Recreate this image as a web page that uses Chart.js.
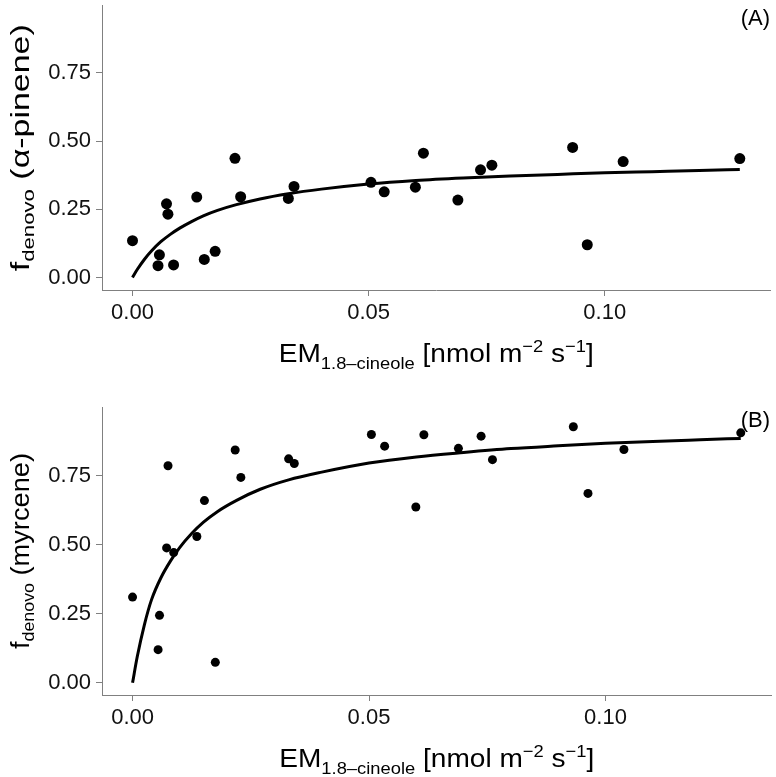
<!DOCTYPE html>
<html>
<head>
<meta charset="utf-8">
<script src="https://cdn.jsdelivr.net/npm/chart.js@4/dist/chart.umd.min.js"></script>
<style>
  html, body { margin: 0; padding: 0; background: #fff; }
  #wrap { position: relative; width: 776px; height: 777px; }
  canvas { position: absolute; left: 0; }
</style>
</head>
<body>
<div id="wrap">
  <canvas id="c1" width="776" height="395" style="top:0"></canvas>
  <canvas id="c2" width="776" height="382" style="top:395px"></canvas>
</div>
<script>
// ---- data ----
const xTicks = [0, 0.05, 0.10];
const yTicks = [0, 0.25, 0.50, 0.75];

const emCineole = [0.0000, 0.0054, 0.0057, 0.0072, 0.0075, 0.0087, 0.0136, 0.0152, 0.0175, 0.0217,
                   0.0229, 0.0330, 0.0342, 0.0505, 0.0533, 0.0599, 0.0616, 0.0689, 0.0737, 0.0761,
                   0.0932, 0.0963, 0.1039, 0.1286];
const fPinene = [0.135, 0.043, 0.083, 0.270, 0.232, 0.046, 0.295, 0.066, 0.096, 0.437,
                 0.296, 0.290, 0.334, 0.349, 0.314, 0.331, 0.456, 0.284, 0.395, 0.412,
                 0.477, 0.120, 0.425, 0.436];
const fMyrcene = [0.310, 0.120, 0.244, 0.488, 0.785, 0.471, 0.529, 0.659, 0.074, 0.842,
                  0.743, 0.810, 0.793, 0.898, 0.856, 0.636, 0.897, 0.848, 0.892, 0.807,
                  0.926, 0.685, 0.844, 0.904];

const fitX = [0, 0.001, 0.0025, 0.004, 0.006, 0.008, 0.01, 0.0125, 0.015, 0.018, 0.022, 0.027,
              0.033, 0.04, 0.05, 0.06, 0.07, 0.08, 0.09, 0.1, 0.11, 0.12, 0.1286];
const fitPinene = [0, 0.029, 0.066, 0.097, 0.131, 0.158, 0.181, 0.205, 0.226, 0.246, 0.267, 0.288,
                   0.307, 0.324, 0.343, 0.356, 0.365, 0.372, 0.378, 0.384, 0.388, 0.392, 0.396];
const fitMyrcene = [0, 0.095, 0.21, 0.30, 0.38, 0.44, 0.49, 0.54, 0.581, 0.62, 0.66, 0.70,
                    0.734, 0.762, 0.795, 0.817, 0.833, 0.847, 0.857, 0.866, 0.873, 0.879, 0.884];

const panelLabels = ['(A)', '(B)'];
const yTitleNames = ['(α-pinene)', '(myrcene)'];

// ---- helpers ----
const FONT = '"Liberation Sans", Arial, Helvetica, sans-serif';
function pts(xs, ys) { return xs.map((x, i) => ({ x: x, y: ys[i] })); }

function drawRich(ctx, segs, x, y, targetW) {
  let w = 0;
  segs.forEach(s => { ctx.font = s.size + 'px ' + FONT; s.w = ctx.measureText(s.t).width; w += s.w; });
  const sx = targetW ? targetW / w : 1;
  ctx.save();
  ctx.translate(x, y);
  ctx.scale(sx, 1);
  let cx = -w / 2;
  ctx.fillStyle = '#000';
  ctx.textBaseline = 'alphabetic';
  ctx.textAlign = 'left';
  segs.forEach(s => { ctx.font = s.size + 'px ' + FONT; ctx.fillText(s.t, cx, s.dy || 0); cx += s.w; });
  ctx.restore();
}

function makeChart(id, ys, fitYs, idx, opts) {
  const titlePlugin = {
    id: 'titles' + idx,
    afterDraw(chart) {
      const ctx = chart.ctx;
      const a = chart.chartArea;
      drawRich(ctx, [
        { t: 'EM', size: 26 },
        { t: '1.8\u2013cineole', size: 17, dy: 7 },
        { t: ' [nmol m', size: 26 },
        { t: '\u22122', size: 17, dy: -10 },
        { t: ' s', size: 26 },
        { t: '\u22121', size: 17, dy: -10 },
        { t: ']', size: 26 }
      ], (a.left + a.right) / 2, opts.xTitleY, 315);
      ctx.save();
      ctx.translate(29, (a.top + a.bottom) / 2);
      ctx.rotate(-Math.PI / 2);
      drawRich(ctx, [
        { t: 'f', size: 26 },
        { t: 'denovo', size: 17, dy: 5 },
        { t: ' ' + yTitleNames[idx], size: 26 }
      ], 0, 0, opts.yTitleW);
      ctx.restore();
      ctx.save();
      ctx.font = '22px ' + FONT;
      ctx.fillStyle = '#000';
      ctx.textAlign = 'right';
      ctx.textBaseline = 'middle';
      ctx.fillText(panelLabels[idx], 770, opts.labelY);
      ctx.restore();
    }
  };
  return new Chart(document.getElementById(id), {
    type: 'scatter',
    data: {
      datasets: [
        {
          data: pts(emCineole, ys),
          backgroundColor: '#000',
          borderColor: '#000',
          pointRadius: opts.r,
          pointHoverRadius: opts.r,
          borderWidth: 0
        },
        {
          data: pts(fitX, fitYs),
          showLine: true,
          borderColor: '#000',
          borderWidth: 3,
          pointRadius: 0,
          cubicInterpolationMode: 'monotone',
          fill: false
        }
      ]
    },
    options: {
      responsive: false,
      animation: false,
      devicePixelRatio: 1,
      layout: { padding: { top: opts.padTop, right: 2, left: 0, bottom: 0 } },
      plugins: { legend: { display: false }, tooltip: { enabled: false } },
      scales: {
        x: {
          type: 'linear',
          min: -0.00646, max: 0.1351,
          afterBuildTicks: s => { s.ticks = xTicks.map(v => ({ value: v })); },
          afterFit: s => { s.height = opts.xAxisH; s.paddingLeft = 0; s.paddingRight = 0; },
          ticks: {
            callback: v => v.toFixed(2),
            font: { family: FONT, size: 22 },
            color: '#111',
            padding: 4,
            maxRotation: 0
          },
          grid: { display: true, drawOnChartArea: false, drawTicks: true, tickLength: 6, color: '#808080', lineWidth: 1 },
          border: { display: true, color: '#808080', width: 1 }
        },
        y: {
          type: 'linear',
          min: opts.yMin, max: 0.9975,
          afterBuildTicks: s => { s.ticks = yTicks.map(v => ({ value: v })); },
          afterFit: s => { s.width = 102; s.paddingTop = 0; s.paddingBottom = 0; },
          ticks: {
            callback: v => v.toFixed(2),
            font: { family: FONT, size: 22 },
            color: '#111',
            padding: 5
          },
          grid: { display: true, drawOnChartArea: false, drawTicks: true, tickLength: 6, color: '#808080', lineWidth: 1 },
          border: { display: true, color: '#808080', width: 1 }
        }
      }
    },
    plugins: [titlePlugin]
  });
}

makeChart('c1', fPinene, fitPinene, 0, { r: 5.5, padTop: 2, xAxisH: 105, yMin: -0.046, xTitleY: 362, labelY: 19, yTitleW: 247 });
makeChart('c2', fMyrcene, fitMyrcene, 1, { r: 4.5, padTop: 12, xAxisH: 82, yMin: -0.044, xTitleY: 767 - 395, labelY: 421 - 395, yTitleW: 196 });
</script>
</body>
</html>
